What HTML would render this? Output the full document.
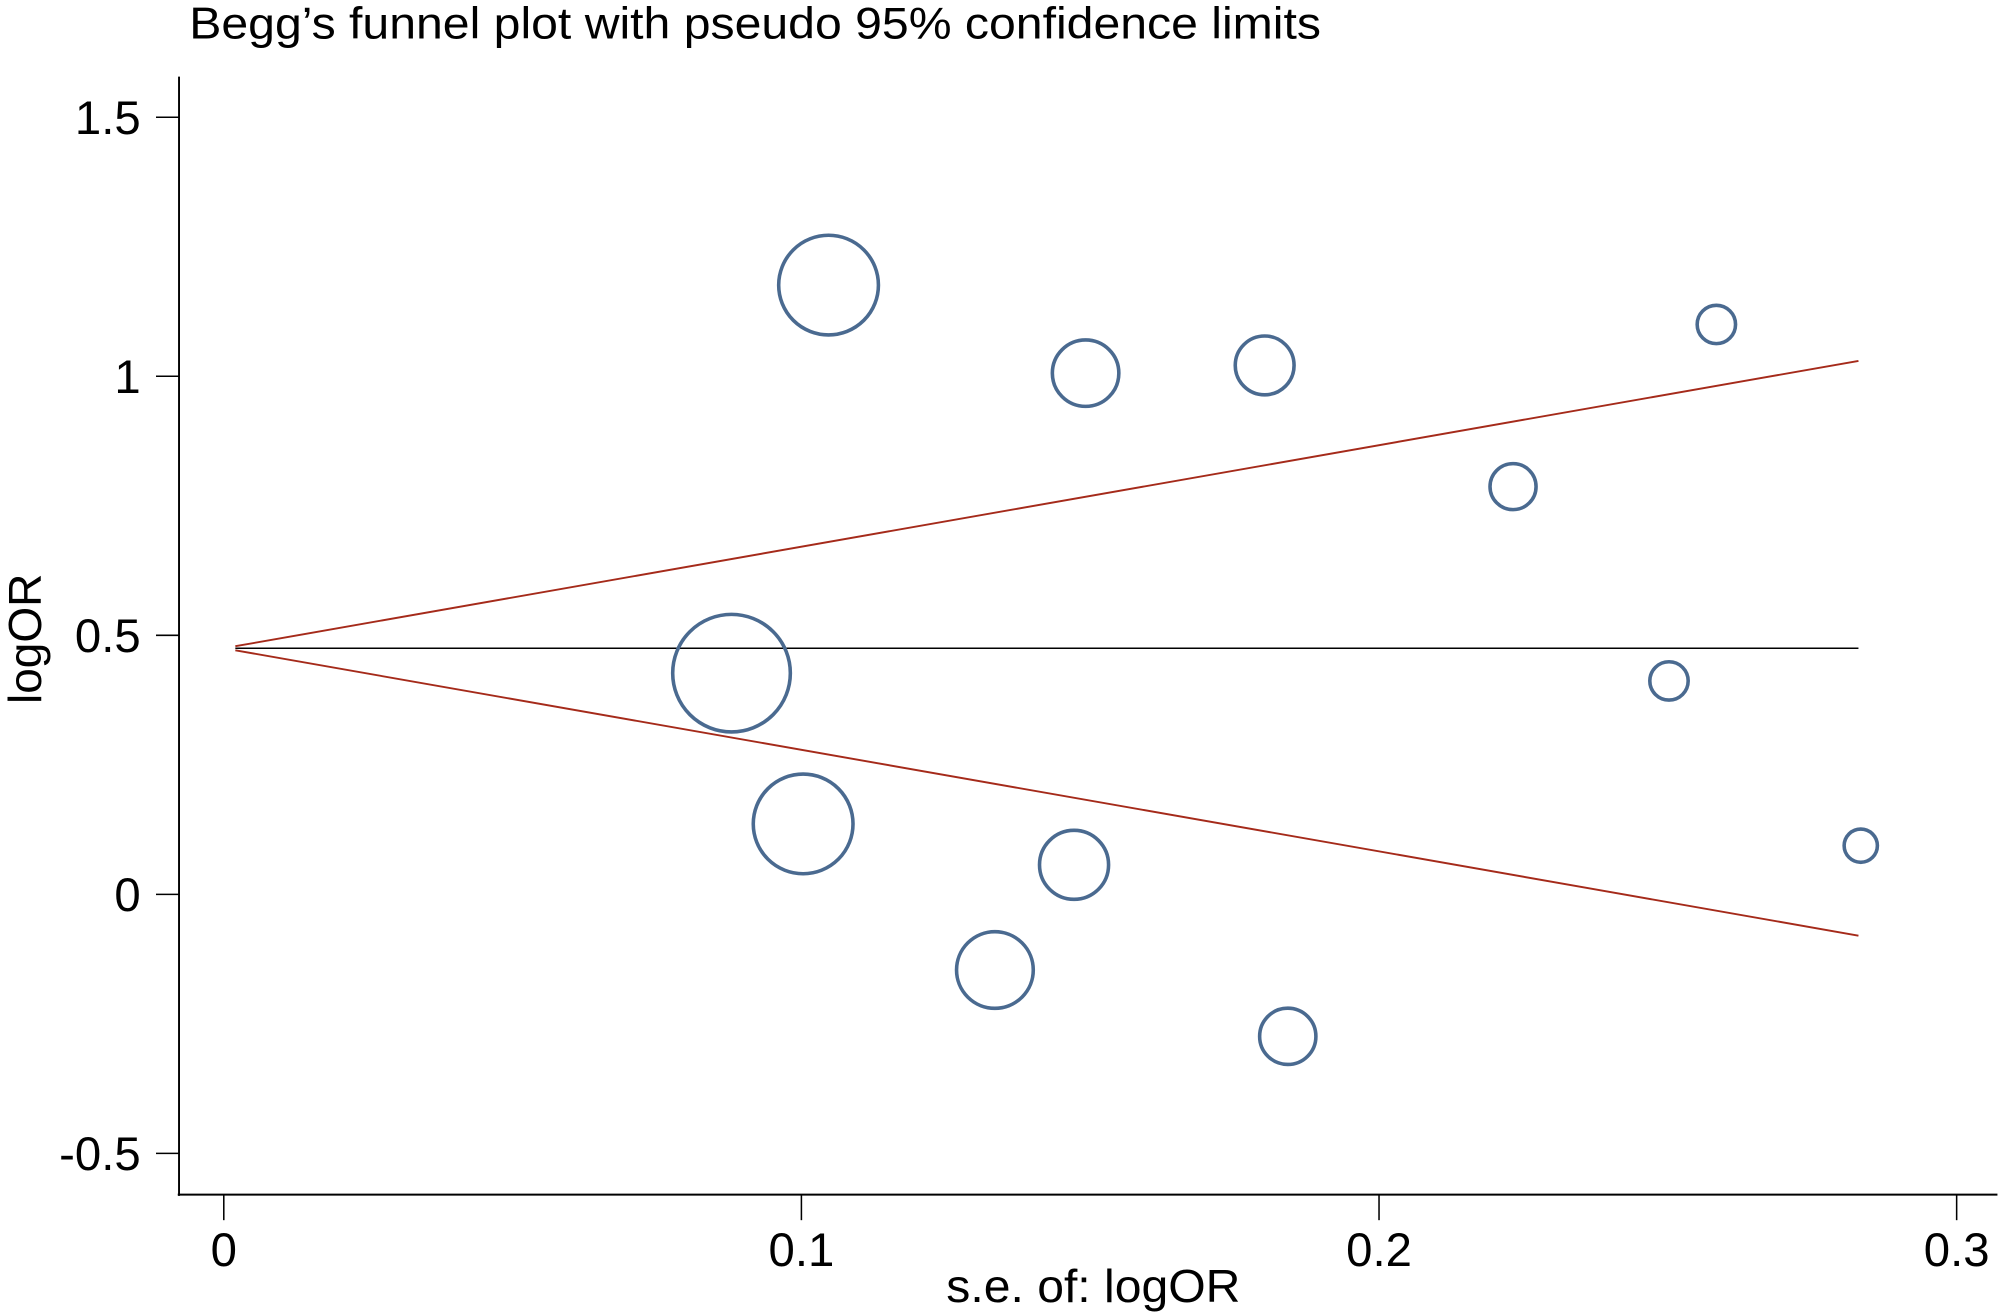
<!DOCTYPE html>
<html><head><meta charset="utf-8"><style>
html,body{margin:0;padding:0;background:#fff;}
svg{display:block;}
text{font-family:"Liberation Sans",Arial,sans-serif;fill:#000;}
</style></head><body>
<svg id="chart" width="2000" height="1316" viewBox="0 0 1564 1030" preserveAspectRatio="none" xmlns="http://www.w3.org/2000/svg">
<text x="148" y="30" font-size="35" textLength="885" lengthAdjust="spacingAndGlyphs">Begg’s funnel plot with pseudo 95% confidence limits</text>
<g id="axes"></g>
<g id="lines"></g>
<g id="points"></g>
</svg>
<script>
const seValues = [0.1047, 0.1492, 0.1802, 0.2584, 0.2232, 0.0879, 0.2502, 0.1003, 0.1472, 0.2834, 0.1335, 0.1842];
const logOR = [1.176, 1.006, 1.021, 1.10, 0.787, 0.427, 0.412, 0.136, 0.057, 0.094, -0.146, -0.274];
const markerSize = [39, 26, 23, 15, 18, 46, 15, 39, 27, 13, 30, 22];
const xTicks = [0, 0.1, 0.2, 0.3];
const xTickLabels = ["0", "0.1", "0.2", "0.3"];
const yTicks = [1.5, 1, 0.5, 0, -0.5];
const yTickLabels = ["1.5", "1", "0.5", "0", "-0.5"];
const pooled = 0.475;
const seMin = 0.002, seMax = 0.283;

const NS = "http://www.w3.org/2000/svg";
function xs(v){ return 175 + v * 4517; }
function ys(v){ return 700 - v * 405.5; }
function mk(tag, attrs, parent){ const e = document.createElementNS(NS, tag); for (const k in attrs) e.setAttribute(k, attrs[k]); parent.appendChild(e); return e; }
const axes = document.getElementById('axes');
const lines = document.getElementById('lines');
const pts = document.getElementById('points');

let a = mk('line', {x1:140, y1:60, x2:140, y2:936, stroke:'#000', 'stroke-width':1.5}, axes);


a = mk('line', {x1:139, y1:935, x2:1562, y2:935, stroke:'#000', 'stroke-width':1.5}, axes);



yTicks.forEach((v, i) => {
  const t = mk('line', {x1:122, y1:ys(v), x2:140, y2:ys(v), stroke:'#000', 'stroke-width':1.2}, axes);
  
  
  const l = mk('text', {x:110, y:ys(v) + 13, 'font-size':37, 'text-anchor':'end'}, axes);
  l.textContent = yTickLabels[i];
  
  
});
xTicks.forEach((v, i) => {
  const t = mk('line', {x1:xs(v), y1:935, x2:xs(v), y2:955, stroke:'#000', 'stroke-width':1.2}, axes);
  
  
  const l = mk('text', {x:xs(v), y:991, 'font-size':37, 'text-anchor':'middle'}, axes);
  l.textContent = xTickLabels[i];
  
  
});
let xt = mk('text', {x:855, y:1019, 'font-size':36, 'text-anchor':'middle', textLength:230, lengthAdjust:'spacingAndGlyphs'}, axes);
xt.textContent = 's.e. of: logOR';


let yt = mk('text', {x:0, y:0, 'font-size':36, 'text-anchor':'middle', transform:'translate(32,500) rotate(-90)'}, axes);
yt.textContent = 'logOR';



let pl = mk('line', {x1:xs(seMin), y1:ys(pooled), x2:xs(seMax), y2:ys(pooled), stroke:'#000', 'stroke-width':1.2}, lines);


let ul = mk('line', {x1:xs(seMin), y1:ys(pooled + 1.96*seMin), x2:xs(seMax), y2:ys(pooled + 1.96*seMax), stroke:'#a52a1a', 'stroke-width':1.5}, lines);


let ll = mk('line', {x1:xs(seMin), y1:ys(pooled - 1.96*seMin), x2:xs(seMax), y2:ys(pooled - 1.96*seMax), stroke:'#a52a1a', 'stroke-width':1.5}, lines);



seValues.forEach((s, i) => {
  const c = mk('circle', {cx:xs(s), cy:ys(logOR[i]), r:markerSize[i], fill:'none', stroke:'#4a6a90', 'stroke-width':2.8}, pts);
  
  
});
</script>
</body></html>
